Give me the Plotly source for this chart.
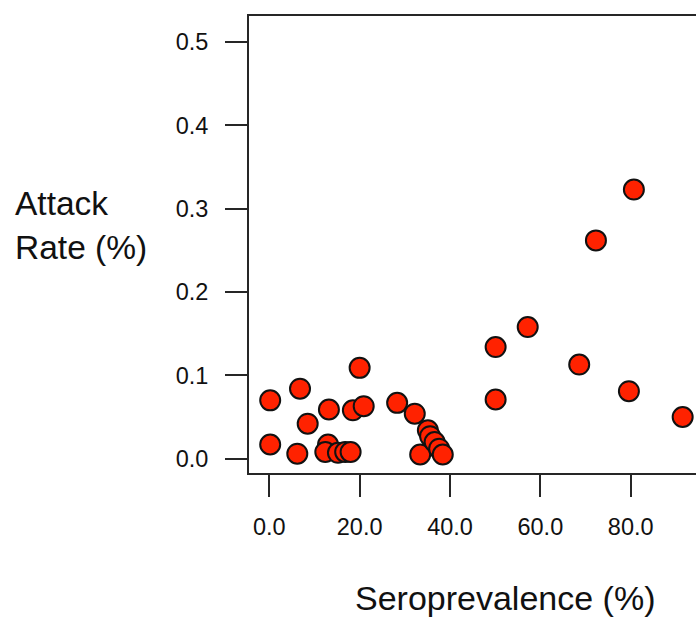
import plotly.graph_objects as go

# Data
seroprevalence = [0.2, 0.2, 6.8, 6.2, 8.5, 13.2, 20.0, 18.5, 20.9,
                  13.0, 12.4, 15.2, 16.8, 18.0,
                  28.3, 32.2, 33.4, 35.1, 35.6, 36.6, 37.6, 38.4,
                  50.1, 50.1, 57.2, 68.6, 72.3, 80.7, 79.6, 91.5]
attack_rate = [0.070, 0.017, 0.084, 0.006, 0.042, 0.059, 0.109, 0.058, 0.063,
               0.017, 0.008, 0.007, 0.008, 0.008,
               0.067, 0.054, 0.005, 0.034, 0.027, 0.020, 0.012, 0.005,
               0.134, 0.071, 0.158, 0.113, 0.262, 0.323, 0.081, 0.050]
x_ticks = [0, 20, 40, 60, 80]
x_tick_labels = ["0.0", "20.0", "40.0", "60.0", "80.0"]
y_ticks = [0.0, 0.1, 0.2, 0.3, 0.4, 0.5]
y_tick_labels = ["0.0", "0.1", "0.2", "0.3", "0.4", "0.5"]
x_title = "Seroprevalence (%)"
y_title = "Attack<br>Rate (%)"

W, H = 696, 617
L, T, B, R = 249, 16, 144, 0
pw, ph = W - L - R, H - T - B

def px_x(p):
    return (p - L) / pw

def px_y(p):
    return (H - B - p) / ph

FONT = "Liberation Sans, Arial, Helvetica, sans-serif"
AX = "#262626"

fig = go.Figure()
fig.add_trace(go.Scatter(
    x=seroprevalence, y=attack_rate, mode="markers",
    marker=dict(size=20, color="#ff2200", line=dict(color="#111111", width=2)),
    showlegend=False, hoverinfo="x+y",
))

fig.update_layout(
    width=W, height=H,
    margin=dict(l=L, r=R, t=T, b=B, pad=0),
    paper_bgcolor="white", plot_bgcolor="white",
    font=dict(family=FONT, color="#111111"),
    xaxis=dict(
        range=[-4.49, 94.45], showgrid=False, zeroline=False,
        showline=True, linecolor=AX, linewidth=2, mirror=True,
        ticks="outside", ticklen=22, tickwidth=2, tickcolor=AX,
        tickvals=x_ticks, ticktext=x_tick_labels,
        tickfont=dict(size=23.5, family=FONT, color="#111111"),
        ticklabelstandoff=10,
    ),
    yaxis=dict(
        range=[-0.0172, 0.5313], showgrid=False, zeroline=False,
        showline=True, linecolor=AX, linewidth=2, mirror=False,
        ticks="outside", ticklen=22, tickwidth=2, tickcolor=AX,
        tickvals=y_ticks, ticktext=y_tick_labels,
        tickfont=dict(size=23.5, family=FONT, color="#111111"),
        ticklabelstandoff=12,
    ),
    annotations=[
        dict(text=x_title, xref="paper", yref="paper",
             x=px_x(505), y=px_y(598), xanchor="center", yanchor="middle",
             showarrow=False, font=dict(size=34, family=FONT, color="#111111")),
        dict(text=y_title, xref="paper", yref="paper", align="left",
             x=px_x(13), y=px_y(226), xanchor="left", yanchor="middle",
             showarrow=False, font=dict(size=33.5, family=FONT, color="#111111")),
    ],
)

fig.write_html("out.html")
